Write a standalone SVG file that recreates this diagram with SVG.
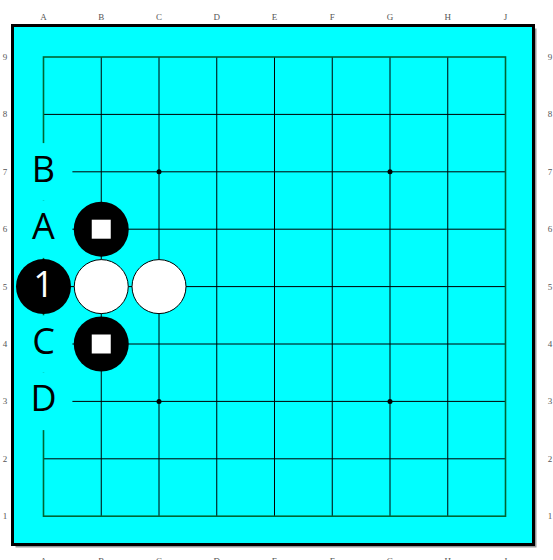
<svg xmlns="http://www.w3.org/2000/svg" width="553" height="560" viewBox="0 0 553 560">
<style>
.coord{font-family:"Liberation Serif",serif;font-size:9px;fill:#555;text-anchor:middle}
.grid line{stroke:#000;stroke-width:1}
.edge{stroke:#063;stroke-width:1.6}
.lbl{font-family:"Open Sans","Noto Sans",sans-serif;font-size:36px;fill:#000;text-anchor:middle}
.blk{fill:#000}
.wht{fill:#fff;stroke:#000;stroke-width:1}
.mark{fill:#fff}
.star{fill:#000}
.bg{fill:#00ffff}
</style>
<rect x="15.5" y="28.5" width="521" height="519" fill="#999"/>
<rect id="board" x="12.5" y="25.5" width="521" height="519" fill="#00ffff" stroke="#000" stroke-width="3"/>
<g id="coords">
<text class="coord" x="43.5" y="20">A</text><text class="coord" x="101.25" y="20">B</text><text class="coord" x="159" y="20">C</text><text class="coord" x="216.75" y="20">D</text><text class="coord" x="274.5" y="20">E</text><text class="coord" x="332.25" y="20">F</text><text class="coord" x="390" y="20">G</text><text class="coord" x="447.75" y="20">H</text><text class="coord" x="505.5" y="20">J</text>
<text class="coord" x="43.5" y="564">A</text><text class="coord" x="101.25" y="564">B</text><text class="coord" x="159" y="564">C</text><text class="coord" x="216.75" y="564">D</text><text class="coord" x="274.5" y="564">E</text><text class="coord" x="332.25" y="564">F</text><text class="coord" x="390" y="564">G</text><text class="coord" x="447.75" y="564">H</text><text class="coord" x="505.5" y="564">J</text>
<text class="coord" x="5" y="60">9</text><text class="coord" x="5" y="117.4">8</text><text class="coord" x="5" y="174.8">7</text><text class="coord" x="5" y="232.2">6</text><text class="coord" x="5" y="289.6">5</text><text class="coord" x="5" y="347">4</text><text class="coord" x="5" y="404.4">3</text><text class="coord" x="5" y="461.8">2</text><text class="coord" x="5" y="519.2">1</text>
<text class="coord" x="550" y="60">9</text><text class="coord" x="550" y="117.4">8</text><text class="coord" x="550" y="174.8">7</text><text class="coord" x="550" y="232.2">6</text><text class="coord" x="550" y="289.6">5</text><text class="coord" x="550" y="347">4</text><text class="coord" x="550" y="404.4">3</text><text class="coord" x="550" y="461.8">2</text><text class="coord" x="550" y="519.2">1</text>
</g>
<g id="grid" class="grid">
<line x1="43.5" y1="114.4" x2="505.5" y2="114.4"/>
<line x1="43.5" y1="171.8" x2="505.5" y2="171.8"/>
<line x1="43.5" y1="229.2" x2="505.5" y2="229.2"/>
<line x1="43.5" y1="286.6" x2="505.5" y2="286.6"/>
<line x1="43.5" y1="344" x2="505.5" y2="344"/>
<line x1="43.5" y1="401.4" x2="505.5" y2="401.4"/>
<line x1="43.5" y1="458.8" x2="505.5" y2="458.8"/>
<line x1="101.25" y1="57" x2="101.25" y2="516.2"/>
<line x1="159" y1="57" x2="159" y2="516.2"/>
<line x1="216.75" y1="57" x2="216.75" y2="516.2"/>
<line x1="274.5" y1="57" x2="274.5" y2="516.2"/>
<line x1="332.25" y1="57" x2="332.25" y2="516.2"/>
<line x1="390" y1="57" x2="390" y2="516.2"/>
<line x1="447.75" y1="57" x2="447.75" y2="516.2"/>
<rect x="43.5" y="57" width="462" height="459.2" fill="none" class="edge"/>
<circle class="star" cx="159" cy="171.8" r="2.5"/>
<circle class="star" cx="390" cy="171.8" r="2.5"/>
<circle class="star" cx="159" cy="401.4" r="2.5"/>
<circle class="star" cx="390" cy="401.4" r="2.5"/>
</g>
<g id="label-B"><rect class="bg" x="14.6" y="143.1" width="57.8" height="57.4"/><text class="lbl" x="43.5" y="181.8">B</text></g>
<g id="label-A"><rect class="bg" x="14.6" y="200.5" width="57.8" height="57.4"/><text class="lbl" x="43.5" y="239.2">A</text></g>
<g id="label-C"><rect class="bg" x="14.6" y="315.3" width="57.8" height="57.4"/><text class="lbl" x="43.5" y="354">C</text></g>
<g id="label-D"><rect class="bg" x="14.6" y="372.7" width="57.8" height="57.4"/><text class="lbl" x="43.5" y="411.4">D</text></g>
<g id="stone-B6"><circle class="blk" cx="101.25" cy="229.2" r="27.5"/><rect class="mark" x="91.75" y="219.7" width="19" height="19"/></g>
<g id="stone-B4"><circle class="blk" cx="101.25" cy="344" r="27.5"/><rect class="mark" x="91.75" y="334.5" width="19" height="19"/></g>
<g id="stone-B5"><circle class="wht" cx="101.25" cy="286.6" r="27"/></g>
<g id="stone-C5"><circle class="wht" cx="159" cy="286.6" r="27"/></g>
<g id="stone-A5"><circle class="blk" cx="43.5" cy="286.6" r="27.5"/><text class="lbl" x="43.5" y="296.6" style="fill:#fff">1</text></g>
</svg>
